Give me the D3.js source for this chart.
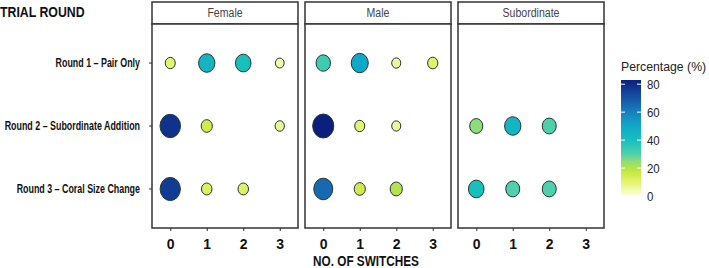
<!DOCTYPE html>
<html>
<head>
<meta charset="utf-8">
<script src="https://cdn.jsdelivr.net/npm/d3@7"></script>
<style>
  body { margin: 0; background: #fff; }
  text { font-family: "Liberation Sans", Arial, sans-serif; }
</style>
</head>
<body>
<div id="chart"></div>
<script>
// data
const panels = ['Female', 'Male', 'Subordinate']
const rounds = ['Round 1 – Pair Only', 'Round 2 – Subordinate Addition', 'Round 3 – Coral Size Change']
const switches = ['0', '1', '2', '3']
// percentage per [round][switch], null = no observation
const female = [[10, 45, 40, 5], [78, 15, null, 7], [76, 12, 12, null]]
const male = [[33, 50, 6, 11], [83, 10, 6, null], [65, 15, 20, null]]
const subordinate = [[null, null, null, null], [25, 45, 30, null], [40, 30, 30, null]]
const legendTicks = [0, 20, 40, 60, 80]

const values = { Female: female, Male: male, Subordinate: subordinate }

const width = 709
const height = 268
const squeeze = 0.88 // the reference is horizontally condensed

const svg = d3.select('#chart')
  .append('svg')
  .attr('width', width)
  .attr('height', height)

const panelW = 146
const panelGap = 7
const panelLeft = 152
const stripTop = 2
const stripH = 22
const plotTop = stripTop + stripH
const plotBottom = 228

const fx = d3.scaleBand()
  .domain(panels)
  .range([panelLeft, panelLeft + 3 * panelW + 2 * panelGap])
  .paddingInner(panelGap / (panelW + panelGap))

const x = d3.scalePoint().domain(switches).range([0, panelW]).padding(0.5)
const y = d3.scalePoint().domain(rounds).range([plotTop, plotBottom]).padding(0.62)

const color = d3.scaleLinear()
  .domain([0, 10, 18, 25, 30, 40, 50, 60, 70, 83])
  .range(['#ffffe0', '#e2f470', '#c4e63c', '#8edc7a', '#4ed0ac', '#18c0bc', '#10a8c8', '#1880bc', '#1654a6', '#0b1f7e'])
  .clamp(true)

const area = d3.scaleLinear().domain([5, 83]).range([25, 144])
const radius = v => Math.sqrt(area(v))

// squeeze text to match the condensed look
function condense(sel, k = squeeze) {
  sel.each(function() {
    const w = this.getComputedTextLength()
    d3.select(this).attr('textLength', w * k).attr('lengthAdjust', 'spacingAndGlyphs')
  })
}

// title
svg.append('text')
  .attr('x', 0).attr('y', 17)
  .attr('font-size', 14).attr('font-weight', 'bold').attr('fill', '#111')
  .text('TRIAL ROUND')
  .call(condense)

// y labels
svg.append('g').selectAll('text')
  .data(rounds)
  .join('text')
  .attr('x', 140)
  .attr('y', d => y(d) + 4)
  .attr('text-anchor', 'end')
  .attr('font-size', 12).attr('font-weight', 'bold').attr('fill', '#111')
  .text(d => d)
  .call(condense, 0.74)

svg.append('g').selectAll('line')
  .data(rounds)
  .join('line')
  .attr('x1', panelLeft - 3).attr('x2', panelLeft)
  .attr('y1', d => y(d)).attr('y2', d => y(d))
  .attr('stroke', '#333')

const panel = svg.selectAll('g.panel')
  .data(panels)
  .join('g')
  .attr('class', 'panel')
  .attr('transform', d => `translate(${fx(d)},0)`)

// strips
panel.append('rect')
  .attr('x', 0).attr('y', stripTop)
  .attr('width', panelW).attr('height', stripH)
  .attr('fill', '#fff').attr('stroke', '#333').attr('stroke-width', 1.5)

panel.append('text')
  .attr('x', panelW / 2).attr('y', stripTop + stripH / 2 + 4)
  .attr('text-anchor', 'middle')
  .attr('font-size', 12).attr('fill', '#444')
  .text(d => d)
  .call(condense)

// plot frame
panel.append('rect')
  .attr('x', 0).attr('y', plotTop)
  .attr('width', panelW).attr('height', plotBottom - plotTop)
  .attr('fill', '#fff').attr('stroke', '#333').attr('stroke-width', 1.5)

// points (slightly narrow, like the squeezed reference)
panel.selectAll('ellipse')
  .data(p => {
    const out = []
    values[p].forEach((row, i) => row.forEach((v, j) => {
      if (v != null) out.push({ round: rounds[i], sw: switches[j], v })
    }))
    return out
  })
  .join('ellipse')
  .attr('cx', d => x(d.sw))
  .attr('cy', d => y(d.round))
  .attr('rx', d => radius(d.v) * squeeze)
  .attr('ry', d => radius(d.v))
  .attr('fill', d => color(d.v))
  .attr('stroke', '#233a33').attr('stroke-width', 1)

// x axis
panel.each(function() {
  const g = d3.select(this).append('g')
    .attr('transform', `translate(0,${plotBottom})`)
    .call(d3.axisBottom(x).tickSize(3).tickPadding(8))
  g.select('.domain').remove()
  g.selectAll('line').attr('stroke', '#333')
  g.selectAll('text')
    .attr('font-size', 14).attr('font-weight', 'bold').attr('fill', '#111')
    .style('font-family', '"Liberation Sans", Arial, sans-serif')
})

svg.append('text')
  .attr('x', 366).attr('y', 266)
  .attr('text-anchor', 'middle')
  .attr('font-size', 14).attr('font-weight', 'bold').attr('fill', '#111')
  .text('NO. OF SWITCHES')
  .call(condense, 0.84)

// legend
const legX = 621
const legW = 20
const legScale = d3.scaleLinear().domain([0, 83]).range([196, 80])

svg.append('text')
  .attr('x', legX).attr('y', 71)
  .attr('font-size', 12.5).attr('fill', '#222')
  .text('Percentage (%)')
  .call(condense, 0.98)

const grad = svg.append('defs').append('linearGradient')
  .attr('id', 'legGrad')
  .attr('x1', 0).attr('y1', 1).attr('x2', 0).attr('y2', 0)

grad.selectAll('stop')
  .data(d3.range(0, 84, 2))
  .join('stop')
  .attr('offset', d => d / 83)
  .attr('stop-color', d => color(d))

svg.append('rect')
  .attr('x', legX).attr('y', legScale(83))
  .attr('width', legW).attr('height', legScale(0) - legScale(83))
  .attr('fill', 'url(#legGrad)')

const legTicks = svg.append('g')
legTicks.selectAll('line.l')
  .data(legendTicks.filter(d => d > 0))
  .join('line')
  .attr('x1', legX).attr('x2', legX + 4)
  .attr('y1', d => legScale(d)).attr('y2', d => legScale(d))
  .attr('stroke', '#fff')
legTicks.selectAll('line.r')
  .data(legendTicks.filter(d => d > 0))
  .join('line')
  .attr('x1', legX + legW - 4).attr('x2', legX + legW)
  .attr('y1', d => legScale(d)).attr('y2', d => legScale(d))
  .attr('stroke', '#fff')

svg.append('g').selectAll('text')
  .data(legendTicks)
  .join('text')
  .attr('x', legX + legW + 6)
  .attr('y', d => legScale(d) + 5)
  .attr('font-size', 13).attr('fill', '#222')
  .text(d => d)
  .call(condense)
</script>
</body>
</html>
